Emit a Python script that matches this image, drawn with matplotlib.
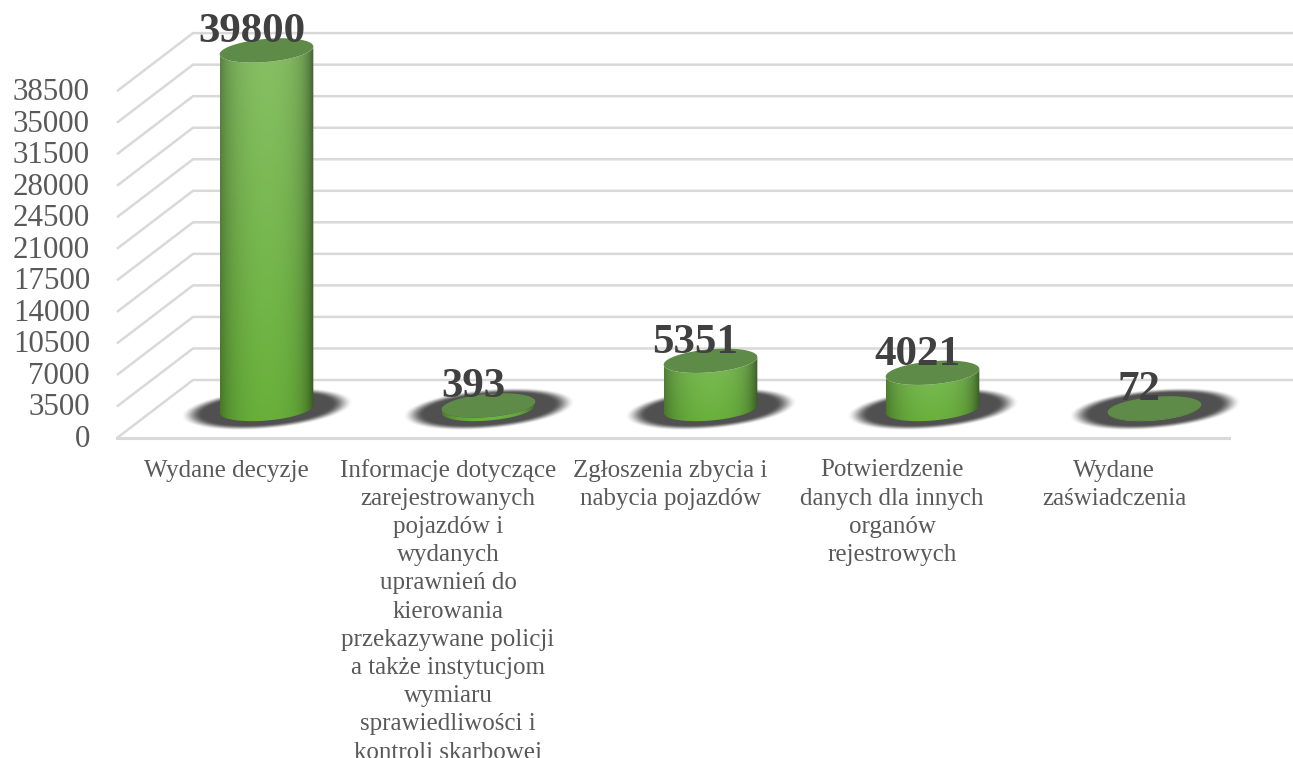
import numpy as np
import matplotlib
matplotlib.use("Agg")
import matplotlib.pyplot as plt
from matplotlib.patches import Polygon

categories = [
    "Wydane decyzje",
    "Informacje dotyczące\nzarejestrowanych\npojazdów i\nwydanych\nuprawnień do\nkierowania\nprzekazywane policji\na także instytucjom\nwymiaru\nsprawiedliwości i\nkontroli skarbowej",
    "Zgłoszenia zbycia i\nnabycia pojazdów",
    "Potwierdzenie\ndanych dla innych\norganów\nrejestrowych",
    "Wydane\nzaświadczenia",
]
values = [39800, 393, 5351, 4021, 72]
y_ticks = [0, 3500, 7000, 10500, 14000, 17500, 21000, 24500, 28000, 31500, 35000, 38500]

W, H = 1293, 758
# pixels per unit of the two axes
PX_X = 222.0
PX_Y = 0.00901
X0 = 266.5      # pixel of first category
Y0 = 438.0      # pixel of value 0 on the front edge
DEPTH_X = 76 / PX_X
DEPTH_Y = 58 / PX_Y
PT = 0.72       # points per pixel at dpi 100

fig = plt.figure(figsize=(W / 100, H / 100), dpi=100)
ax = fig.add_axes([0, 0, 1, 1])
xlim = (-X0 / PX_X, (W - X0) / PX_X)
ylim = (-(H - Y0) / PX_Y, Y0 / PX_Y)
ax.axis("off")

grid_col = "#d9d9d9"
text_col = "#595959"
x_front = (117 - X0) / PX_X
x_back = x_front + DEPTH_X
x_floor_end = (1229 - X0) / PX_X

# left wall + back wall lines
for v in y_ticks:
    ax.plot([x_front, x_back, xlim[1]], [v, v + DEPTH_Y, v + DEPTH_Y],
            color=grid_col, lw=1.8, solid_capstyle="butt", zorder=1)
    ax.annotate(f"{v}", (x_front, v), xytext=(-27 * PT, -1.5 * PT), textcoords="offset points",
                ha="right", va="center", fontsize=22.3,
                family="Liberation Serif", color=text_col)
ax.plot([x_front, x_floor_end], [0, 0], color=grid_col, lw=2.2, zorder=1)

TILT = np.radians(5.0)


def ellipse_xy(a, b, t):
    ex = a * np.cos(t) * np.cos(TILT) - b * np.sin(t) * np.sin(TILT)
    ey = a * np.cos(t) * np.sin(TILT) + b * np.sin(t) * np.cos(TILT)
    return ex, ey


def shadow(cx, cy):
    a, b = 87.0, 20.5
    px = np.linspace(-100, 100, 200)
    py = np.linspace(-32, 32, 64)
    gx, gy = np.meshgrid(px, py)
    u = (gx * np.cos(TILT) + gy * np.sin(TILT)) / a
    w = (-gx * np.sin(TILT) + gy * np.cos(TILT)) / b
    d = np.sqrt(u ** 2 + w ** 2)
    alpha = np.clip((1.0 - d) / 0.25, 0, 1)
    alpha = alpha * alpha * (3 - 2 * alpha)
    img = np.zeros(gx.shape + (4,))
    img[..., :3] = 0x50 / 255
    img[..., 3] = alpha
    ax.imshow(img, extent=(cx - 100 / PX_X, cx + 100 / PX_X, cy - 32 / PX_Y, cy + 32 / PX_Y),
              origin="lower", aspect="auto", interpolation="bilinear", zorder=2)


def side_image(height_px):
    # shading of the cylinder wall
    ny = max(int(height_px) + 30, 30)
    s = np.linspace(-1, 1, 94)
    tt = np.linspace(0, 1, ny)[:, None]  # 0 = bottom, 1 = top
    top_c = np.array([0x88, 0xc0, 0x66]) / 255
    bot_c = np.array([0x68, 0xb0, 0x3a]) / 255
    if height_px < 120:
        top_c = np.array([0x80, 0xbd, 0x5c]) / 255
    base = (bot_c + (top_c - bot_c) * tt).reshape(ny, 1, 3)
    light = 1 - 0.2 * s ** 2 - 0.3 * np.clip(s, 0, 1) ** 6 - 0.12 * np.clip(-s, 0, 1) ** 6
    return np.clip(base * light[None, :, None], 0, 1)


A, B = 47.0, 11.5
base_v = DEPTH_Y / 2

for i, v in enumerate(values):
    shadow(i, base_v)

for i, v in enumerate(values):
    top_v = base_v + v
    # lower outline of the base, then upper outline of the top
    t = np.linspace(np.pi, 2 * np.pi, 100)
    ex, ey = ellipse_xy(A, B, t)
    low = np.column_stack([i + ex / PX_X, base_v + ey / PX_Y])
    up = np.column_stack([i + ex[::-1] / PX_X, top_v + ey[::-1] / PX_Y])
    clip = Polygon(np.vstack([low, up, low[:1]]), closed=True, fc="none", ec="none")
    ax.add_patch(clip)
    im = ax.imshow(side_image(v * PX_Y),
                   extent=(i - A / PX_X, i + A / PX_X, base_v - 16 / PX_Y, top_v + 16 / PX_Y),
                   origin="lower", aspect="auto", interpolation="bilinear", zorder=3)
    im.set_clip_path(clip)

    t = np.linspace(0, 2 * np.pi, 200)
    ex, ey = ellipse_xy(A, B, t)
    top_pts = np.column_stack([i + ex / PX_X, top_v + ey / PX_Y])
    ax.add_patch(Polygon(top_pts, closed=True, fc="#5f8b48", ec="none", zorder=4))

    ax.annotate(f"{v}", (i, top_v), xytext=(-15 * PT, 8 * PT), textcoords="offset points",
                ha="center", va="baseline", fontsize=31, fontweight="bold",
                family="Liberation Serif", color="#404040", zorder=6)

    # one text per line keeps the spacing even
    for k, line in enumerate(categories[i].split("\n")):
        ax.annotate(line, (i - DEPTH_X / 2, 0), xytext=(-2.5 * PT, -(38.5 + 28.2 * k) * PT),
                    textcoords="offset points", ha="center", va="baseline",
                    fontsize=18, family="Liberation Serif", color=text_col,
                    zorder=5, annotation_clip=False)

ax.set_xlim(*xlim)
ax.set_ylim(*ylim)

fig.savefig("out.png", dpi=100, facecolor="white")
